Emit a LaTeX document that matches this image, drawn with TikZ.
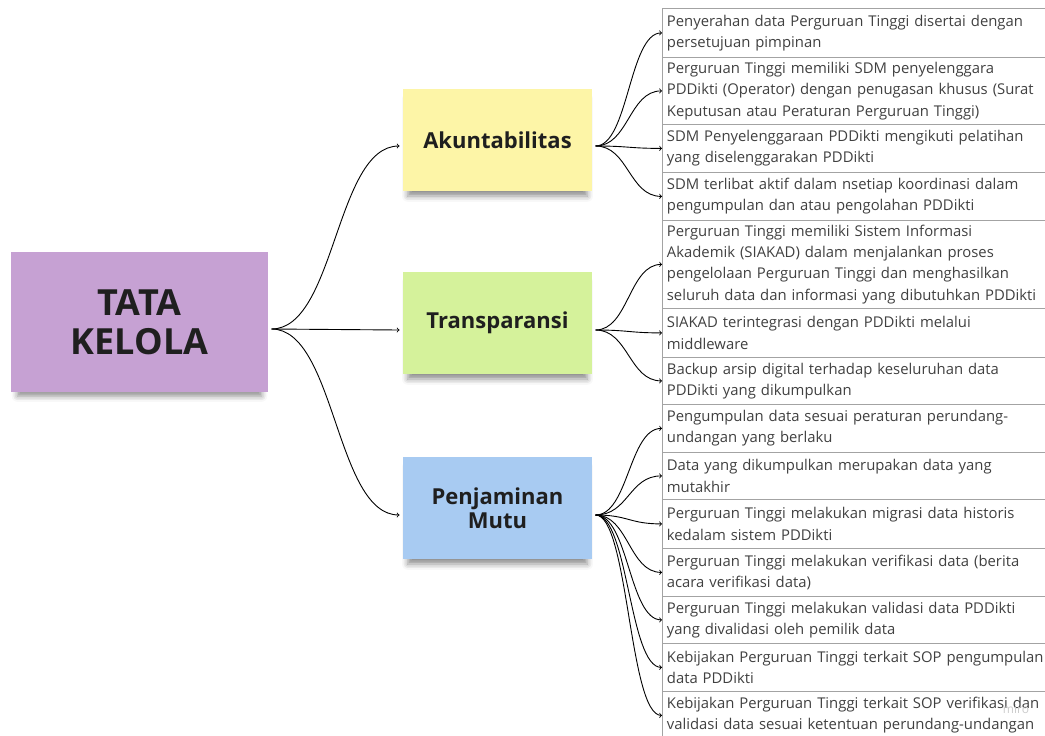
\documentclass[tikz,border=0pt]{standalone}
\usepackage{fontspec}
\setmainfont{Open Sans}
\usetikzlibrary{shadows.blur}

\definecolor{violet}{HTML}{C6A1D3}
\definecolor{jaune}{HTML}{FDF5A7}
\definecolor{vert}{HTML}{D5F29B}
\definecolor{bleu}{HTML}{A8CBF2}
\definecolor{trait}{HTML}{A3A3A3}
\definecolor{texte}{HTML}{404040}

\begin{document}
\begin{tikzpicture}[x=1pt, y=-1pt,
  note/.style={minimum width=189pt, minimum height=102pt, outer sep=3.5pt, align=center,
    text=black!88, font=\bfseries\fontsize{22}{23.5}\selectfont,
    blur shadow={shadow xshift=0pt, shadow yshift=-8pt, shadow scale=0.95, shadow blur radius=6pt, shadow opacity=45}},
  item/.style={draw=trait, line width=0.8pt, anchor=north west, text width=395pt, align=left,
    inner xsep=4.5pt, text=texte, font=\fontsize{14.85}{21.3}\selectfont},
  lien/.style={->, line width=0.9pt}]
\useasboundingbox (0,0) rectangle (1045,736);
% Notes
\node[note, fill=violet, minimum width=257pt, minimum height=140pt, font=\bfseries\fontsize{36}{39}\selectfont] (tata) at (139.5,322) {TATA\\KELOLA};
\node[note, fill=jaune] (akun) at (497.5,140) {Akuntabilitas};
\node[note, fill=vert] (trans) at (497.5,323) {Transparansi};
\node[note, fill=bleu] (mutu) at (497.5,508) {Penjaminan\\Mutu};
% Liste
\node[item, minimum height=49pt] (a1) at (662,8) {Penyerahan data Perguruan Tinggi disertai dengan\\persetujuan pimpinan};
\node[item, minimum height=67pt] (a2) at (662,57) {Perguruan Tinggi memiliki SDM penyelenggara\\PDDikti (Operator) dengan penugasan khusus (Surat\\Keputusan atau Peraturan Perguruan Tinggi)};
\node[item, minimum height=48pt] (a3) at (662,124) {SDM Penyelenggaraan PDDikti mengikuti pelatihan\\yang diselenggarakan PDDikti};
\node[item, minimum height=48pt] (a4) at (662,172) {SDM terlibat aktif dalam nsetiap koordinasi dalam\\pengumpulan dan atau pengolahan PDDikti};
\node[item, minimum height=88pt] (t1) at (662,220) {Perguruan Tinggi memiliki Sistem Informasi\\Akademik (SIAKAD) dalam menjalankan proses\\pengelolaan Perguruan Tinggi dan menghasilkan\\seluruh data dan informasi yang dibutuhkan PDDikti};
\node[item, minimum height=49pt] (t2) at (662,308) {SIAKAD terintegrasi dengan PDDikti melalui\\middleware};
\node[item, minimum height=47pt] (t3) at (662,357) {Backup arsip digital terhadap keseluruhan data\\PDDikti yang dikumpulkan};
\node[item, minimum height=48pt] (m1) at (662,404) {Pengumpulan data sesuai peraturan perundang-\\undangan yang berlaku};
\node[item, minimum height=47pt] (m2) at (662,452) {Data yang dikumpulkan merupakan data yang\\mutakhir};
\node[item, minimum height=49pt] (m3) at (662,499) {Perguruan Tinggi melakukan migrasi data historis\\kedalam sistem PDDikti};
\node[item, minimum height=48pt] (m4) at (662,548) {Perguruan Tinggi melakukan verifikasi data (berita\\acara verifikasi data)};
\node[item, minimum height=47pt] (m5) at (662,596) {Perguruan Tinggi melakukan validasi data PDDikti\\yang divalidasi oleh pemilik data};
\node[item, minimum height=48pt] (m6) at (662,643) {Kebijakan Perguruan Tinggi terkait SOP pengumpulan\\data PDDikti};
\node[item, minimum height=48pt] (m7) at (662,691) {Kebijakan Perguruan Tinggi terkait SOP verifikasi dan\\validasi data sesuai ketentuan perundang-undangan};
\node[text=black!20, font=\fontsize{12}{12}\selectfont] (miro) at (1016,709) {miro};
% Liens
\draw[lien] ([yshift=-7pt]tata.east) .. controls +(64,0) and +(-64,0) .. ([yshift=-6pt]akun.west);
\draw[lien] ([yshift=-7pt]tata.east) .. controls +(64,0) and +(-64,0) .. ([yshift=-7pt]trans.west);
\draw[lien] ([yshift=-7pt]tata.east) .. controls +(64,0) and +(-64,0) .. ([yshift=-7pt]mutu.west);
\draw[lien] ([yshift=-6pt]akun.east) .. controls +(33,0) and +(-33,0) .. (a1.west);
\draw[lien] ([yshift=-6pt]akun.east) .. controls +(33,0) and +(-33,0) .. (a2.west);
\draw[lien] ([yshift=-6pt]akun.east) .. controls +(33,0) and +(-33,0) .. (a3.west);
\draw[lien] ([yshift=-6pt]akun.east) .. controls +(33,0) and +(-33,0) .. (a4.west);
\draw[lien] ([yshift=-7pt]trans.east) .. controls +(33,0) and +(-33,0) .. (t1.west);
\draw[lien] ([yshift=-7pt]trans.east) .. controls +(33,0) and +(-33,0) .. (t2.west);
\draw[lien] ([yshift=-7pt]trans.east) .. controls +(33,0) and +(-33,0) .. (t3.west);
\draw[lien] ([yshift=-7pt]mutu.east) .. controls +(33,0) and +(-33,0) .. (m1.west);
\draw[lien] ([yshift=-7pt]mutu.east) .. controls +(33,0) and +(-33,0) .. (m2.west);
\draw[lien] ([yshift=-7pt]mutu.east) .. controls +(33,0) and +(-33,0) .. (m3.west);
\draw[lien] ([yshift=-7pt]mutu.east) .. controls +(33,0) and +(-33,0) .. (m4.west);
\draw[lien] ([yshift=-7pt]mutu.east) .. controls +(33,0) and +(-33,0) .. (m5.west);
\draw[lien] ([yshift=-7pt]mutu.east) .. controls +(33,0) and +(-33,0) .. (m6.west);
\draw[lien] ([yshift=-7pt]mutu.east) .. controls +(33,0) and +(-33,0) .. (m7.west);
\end{tikzpicture}
\end{document}
